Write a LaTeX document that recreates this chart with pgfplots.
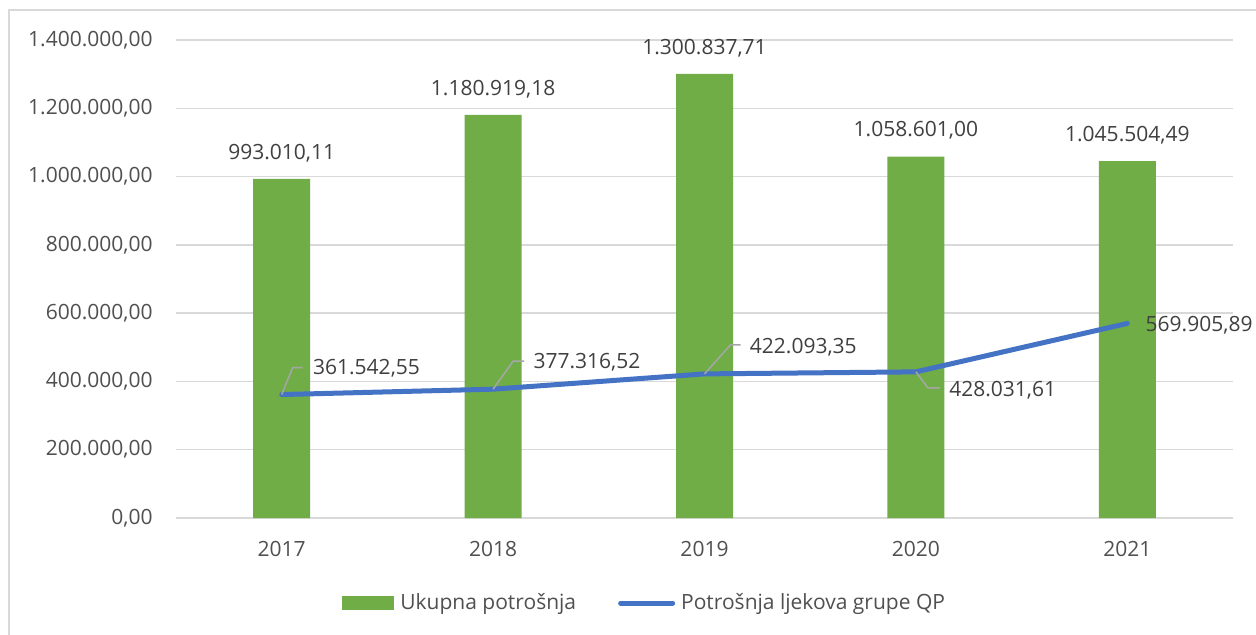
\documentclass[border=0pt]{standalone}
\usepackage{fontspec}
\setmainfont{Open Sans}
\usepackage{pgfplots}
\usepackage{pgfplotstable}
\pgfplotsset{compat=1.18}
\definecolor{barg}{HTML}{70AD47}
\definecolor{lineb}{HTML}{4472C4}
\definecolor{gridc}{HTML}{D9D9D9}
\definecolor{ticktxt}{HTML}{505050}
\definecolor{lbltxt}{HTML}{404040}
\definecolor{leadc}{HTML}{A6A6A6}
\pgfplotstableread{
x y label
0 993010.11 993.010,11
1 1180919.18 1.180.919,18
2 1300837.71 1.300.837,71
3 1058601.00 1.058.601,00
4 1045504.49 1.045.504,49
}\bardata
\pgfplotstableread{
x y
0 361542.55
1 377316.52
2 422093.35
3 428031.61
4 569905.89
}\linedata
\begin{document}
\begin{tikzpicture}[every node/.append style={font=\fontsize{10.5}{12.6}\selectfont}]
\useasboundingbox (0,0) rectangle (628pt,317pt);
\clip (0,0) rectangle (628pt,317pt);
\fill[white] (0,0) rectangle (628pt,317pt);
\draw[gridc, line width=0.8pt] (4.5pt,-10pt) -- (4.5pt,312pt) -- (640pt,312pt);
\begin{axis}[
  at={(88pt,58pt)}, anchor=south west,
  scale only axis, width=528.5pt, height=239pt,
  xmin=-0.5, xmax=4.5, ymin=0, ymax=1400000,
  axis lines*=left,
  axis line style={draw=none},
  scaled y ticks=false,
  xtick={0,1,2,3,4}, xticklabels={2017,2018,2019,2020,2021},
  ytick={0,200000,400000,600000,800000,1000000,1200000,1400000},
  yticklabels={{0,00},{200.000,00},{400.000,00},{600.000,00},{800.000,00},{1.000.000,00},{1.200.000,00},{1.400.000,00}},
  major tick length=0pt,
  ymajorgrids, grid style={gridc, line width=0.75pt},
  xticklabel style={text=ticktxt, anchor=center, inner sep=0pt, yshift=-15.5pt},
  yticklabel style={text=ticktxt, anchor=east, inner sep=0pt, xshift=-11.5pt},
  /pgf/number format/assume math mode=true,
  clip=false,
  legend style={at={(rel axis cs:0.157,0)}, anchor=west, yshift=-42.5pt, draw=none, fill=none,
    inner sep=0pt, legend columns=2, text=ticktxt,
    nodes={inner sep=0pt, text=ticktxt},
    /tikz/every odd column/.append style={column sep=3pt},
    /tikz/every even column/.append style={column sep=21pt}},
  legend cell align=left,
]
\addplot[ybar, bar width=28.5pt, fill=barg, draw=none,
  nodes near coords, point meta=explicit symbolic,
  nodes near coords style={anchor=center, inner sep=0pt, yshift=13pt, text=lbltxt},
  legend image code/.code={\fill[barg] (0pt,-3.5pt) rectangle (26pt,3.5pt);}]
  table[x=x, y=y, meta=label] {\bardata};
\addlegendentry{Ukupna potrošnja}
\addplot[sharp plot, lineb, line width=2.5pt, line join=round, line cap=round, mark=none,
  legend image code/.code={\draw[lineb, line width=2.5pt, line cap=round] (1pt,0pt) -- (27pt,0pt);}]
  table[x=x, y=y] {\linedata};
\addlegendentry{Potrošnja ljekova grupe QP}
% leader lines and line labels
\draw[leadc, line width=0.75pt] (axis cs:0,361542.55) -- ++(5.5pt,13.5pt) -- ++(5pt,0pt);
\draw[leadc, line width=0.75pt] (axis cs:1,377316.52) -- ++(10pt,14pt) -- ++(5.5pt,0pt);
\draw[leadc, line width=0.75pt] (axis cs:2,422093.35) -- ++(13pt,14.5pt) -- ++(5pt,0pt);
\draw[leadc, line width=0.75pt] (axis cs:3,428031.61) -- ++(6pt,-8pt) -- ++(6pt,0pt);
\node[anchor=west, inner sep=0pt, text=lbltxt] at ([shift={(15.5pt,13pt)}]axis cs:0,361542.55) {361.542,55};
\node[anchor=west, inner sep=0pt, text=lbltxt] at ([shift={(20pt,13.5pt)}]axis cs:1,377316.52) {377.316,52};
\node[anchor=west, inner sep=0pt, text=lbltxt] at ([shift={(22.5pt,13.5pt)}]axis cs:2,422093.35) {422.093,35};
\node[anchor=west, inner sep=0pt, text=lbltxt] at ([shift={(16.5pt,-9pt)}]axis cs:3,428031.61) {428.031,61};
\node[anchor=west, inner sep=0pt, text=lbltxt] at ([shift={(9pt,-1pt)}]axis cs:4,569905.89) {569.905,89};
\end{axis}
\end{tikzpicture}
\end{document}
